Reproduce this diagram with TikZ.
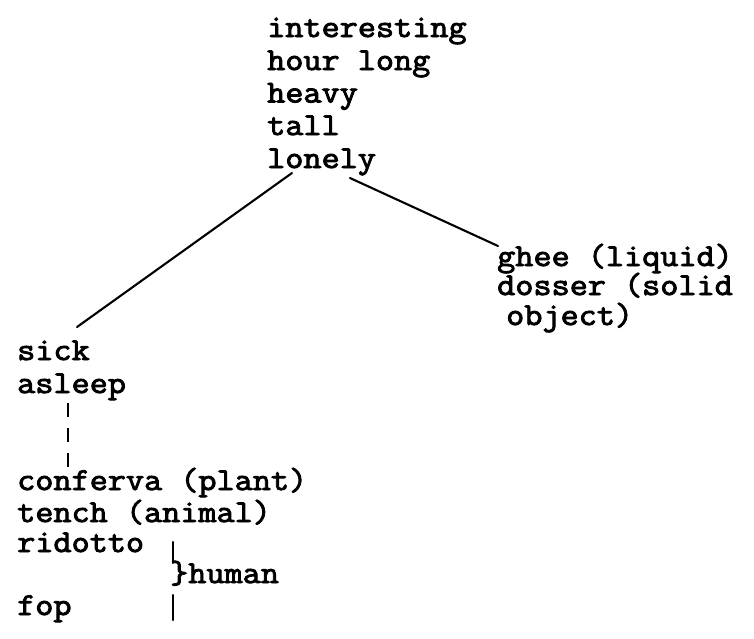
\documentclass[tikz,border=0pt]{standalone}
\usepackage{fontspec}
\newfontfamily\courfont[FakeBold=2.8,FakeStretch=1.1]{Latin Modern Mono}
\usetikzlibrary{calc}
\tikzset{
  word/.style={anchor=base west, inner sep=0pt, font=\courfont\fontsize{32}{33}\selectfont},
  link/.style={line width=2.1pt, line cap=round},
  dashlink/.style={line width=2.1pt, dash pattern=on 14pt off 11pt},
}
\begin{document}
\begin{tikzpicture}[x=1pt,y=-1pt]
\useasboundingbox (0,0) rectangle (754,638);
% top group
\node[word] (t1) at (267,37) {interesting};
\node[word] (t2) at (267,70) {hour long};
\node[word] (t3) at (267,102.5) {heavy};
\node[word] (t4) at (267,135) {tall};
\node[word] (t5) at (267,168) {lonely};
% right group
\node[word] (r1) at (497,266) {ghee (liquid)};
\node[word] (r2) at (497,295) {dosser (solid};
\node[word] (r3) at (506,325) {object)};
% left group
\node[word] (l1) at (17,360) {sick};
\node[word] (l2) at (17,393) {asleep};
% bottom group
\node[word] (b1) at (17,490) {conferva (plant)};
\node[word] (b2) at (17,522) {tench (animal)};
\node[word] (b3) at (17,552) {ridotto};
\node[word] (b4) at (170,583) {\}human};
\node[word] (b5) at (17,615) {fop};
% connectors
\coordinate (aTop) at ($(t5.base west)+(25,5)$);
\coordinate (aBot) at ($(l1.base west)+(60,-33)$);
\draw[link] (aTop) -- (aBot);
\coordinate (bTop) at ($(t5.base west)+(83,10)$);
\coordinate (bBot) at ($(r1.base west)+(1,-20)$);
\draw[link] (bTop) -- (bBot);
\coordinate (dTop) at ($(l2.base west)+(51,10)$);
\coordinate (dBot) at ($(b1.base west)+(51,-22)$);
\draw[dashlink] (dTop) -- (dBot);
% brace lines
\coordinate (u1) at ($(b4.base west)+(3,-41)$);
\coordinate (u2) at ($(b4.base west)+(3,-20)$);
\coordinate (w1) at ($(b4.base west)+(3,12)$);
\coordinate (w2) at ($(b4.base west)+(3,37)$);
\draw[link] (u1) -- (u2);
\draw[link] (w1) -- (w2);
\end{tikzpicture}
\end{document}
